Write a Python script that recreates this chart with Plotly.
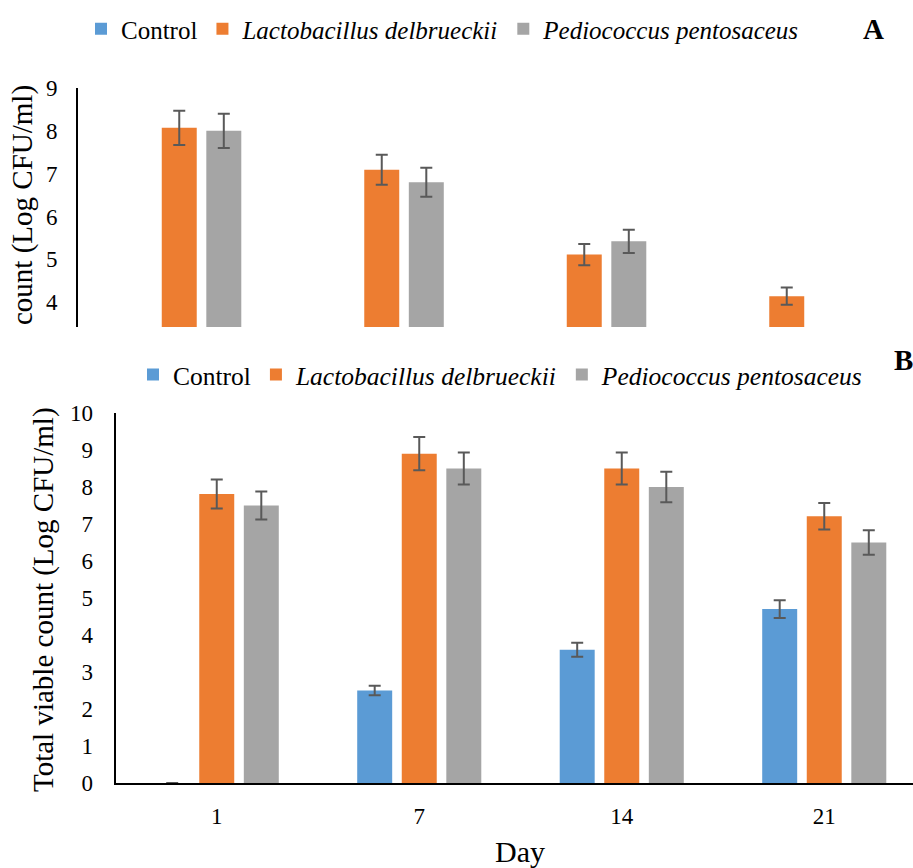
import plotly.graph_objects as go

days = ["1", "7", "14", "21"]
series_names = ["Control", "<i>Lactobacillus delbrueckii</i>", "<i>Pediococcus pentosaceus</i>"]
colors = ["#5B9BD5", "#ED7D31", "#A5A5A5"]

# Panel A
a_control = [None, None, None, None]
a_control_err = [0, 0, 0, 0]
a_lacto = [8.07, 7.09, 5.11, 4.14]
a_lacto_err = [0.40, 0.35, 0.25, 0.20]
a_pedio = [8.0, 6.80, 5.42, 0]
a_pedio_err = [0.40, 0.34, 0.27, 0]

# Panel B
b_control = [0, 2.50, 3.60, 4.70]
b_control_err = [0, 0.13, 0.19, 0.24]
b_lacto = [7.81, 8.90, 8.50, 7.21]
b_lacto_err = [0.39, 0.45, 0.43, 0.36]
b_pedio = [7.50, 8.50, 8.00, 6.50]
b_pedio_err = [0.38, 0.43, 0.41, 0.33]

W, H = 913, 868
FONT = "Liberation Serif, Times New Roman, serif"
ERRC = "#595959"

fig = go.Figure()

def add(vals, errs, i, xa, ya, leg):
    fig.add_trace(go.Bar(
        x=days, y=vals, name=series_names[i], marker_color=colors[i],
        marker_line_width=0,
        error_y=dict(type="data", array=errs, visible=True, color=ERRC, thickness=2, width=6),
        xaxis=xa, yaxis=ya, legend=leg,
    ))

for i, (v, e) in enumerate([(a_control, a_control_err), (a_lacto, a_lacto_err), (a_pedio, a_pedio_err)]):
    add(v, e, i, "x", "y", "legend")
for i, (v, e) in enumerate([(b_control, b_control_err), (b_lacto, b_lacto_err), (b_pedio, b_pedio_err)]):
    add(v, e, i, "x2", "y2", "legend2")

def px_x(p):
    return p / W

def px_y(p):
    return 1 - p / H

tickfont = dict(family=FONT, size=23, color="#000000")

fig.update_layout(
    width=W, height=H,
    margin=dict(l=0, r=0, t=0, b=0, autoexpand=False),
    paper_bgcolor="white", plot_bgcolor="white",
    barmode="group", bargap=0.34, bargroupgap=0.215,
    font=dict(family=FONT, color="#000000"),
    xaxis=dict(domain=[px_x(78), 1], anchor="y", range=[-0.5, -0.5 + (W - 78) / 202.5],
               showticklabels=False, showline=False, showgrid=False, zeroline=False,
               automargin=False,
               type="category", categoryorder="array", categoryarray=days),
    yaxis=dict(domain=[px_y(327), px_y(88)], anchor="x", range=[3.42, 9],
               tickvals=[4, 5, 6, 7, 8, 9], showline=True, linecolor="black", linewidth=2,
               showgrid=False, zeroline=False, tickfont=tickfont, ticklabelstandoff=14,
               automargin=False),
    xaxis2=dict(domain=[px_x(115.5), 1], anchor="y2", range=[-0.5, -0.5 + (W - 115.5) / 202.5],
                showline=True, linecolor="black", linewidth=2, showgrid=False, zeroline=False,
                tickfont=tickfont, ticklabelstandoff=11, automargin=False,
                type="category", categoryorder="array", categoryarray=days),
    yaxis2=dict(domain=[px_y(783), px_y(413)], anchor="x2", range=[0, 10],
                tickvals=list(range(0, 11)), showline=True, linecolor="black", linewidth=2,
                showgrid=False, zeroline=False, tickfont=tickfont, ticklabelstandoff=16,
                automargin=False),
    legend=dict(orientation="h", x=px_x(81), xanchor="left", y=px_y(29), yanchor="middle",
                font=dict(family=FONT, size=25, color="#000000"),
                bgcolor="rgba(0,0,0,0)", tracegroupgap=0),
    legend2=dict(orientation="h", x=px_x(133), xanchor="left", y=px_y(375), yanchor="middle",
                 font=dict(family=FONT, size=25.5, color="#000000"),
                 bgcolor="rgba(0,0,0,0)", tracegroupgap=0),
    showlegend=True,
)

annots = [
    dict(text="count (Log CFU/ml)", x=px_x(23), y=px_y(205), textangle=-90, size=29),
    dict(text="Total viable count (Log CFU/ml)", x=px_x(43), y=px_y(600), textangle=-90, size=29),
    dict(text="Day", x=px_x(520), y=px_y(851), textangle=0, size=30),
    dict(text="<b>A</b>", x=px_x(873), y=px_y(29), textangle=0, size=29),
    dict(text="<b>B</b>", x=px_x(903), y=px_y(360), textangle=0, size=29),
]
for a in annots:
    fig.add_annotation(text=a["text"], x=a["x"], y=a["y"], xref="paper", yref="paper",
                       xanchor="center", yanchor="middle", showarrow=False, textangle=a["textangle"],
                       font=dict(family=FONT, size=a["size"], color="#000000"))

fig.write_html("out.html")
